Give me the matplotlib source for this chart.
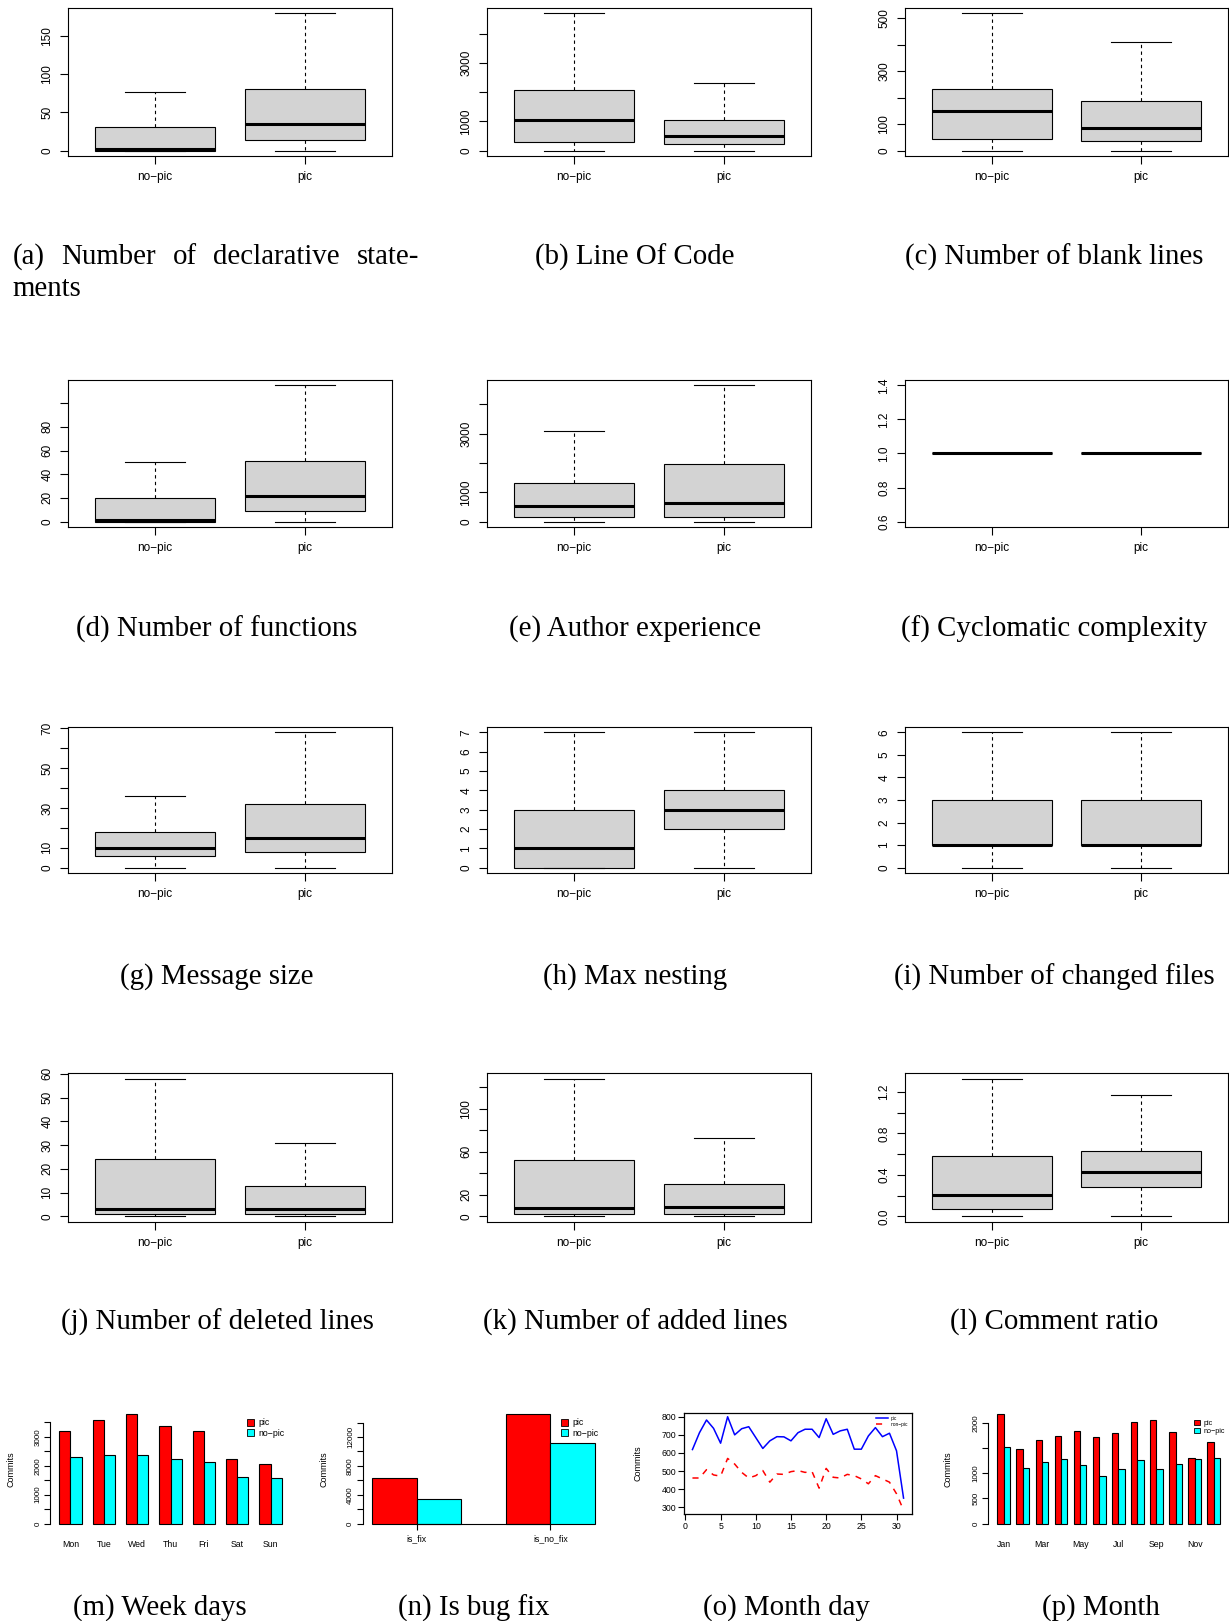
import matplotlib
matplotlib.use('Agg')
import matplotlib.pyplot as plt
from matplotlib.patches import Patch

W, H = 1229, 1621
plt.rcParams['font.family'] = ['Liberation Sans', 'DejaVu Sans']

# ---------------- data ----------------
groups = ['no\u2212pic', 'pic']
# boxplot stats: [lower whisker, Q1, median, Q3, upper whisker]
decl_nopic = [0, 0, 2, 31, 77]
decl_pic = [0, 14, 35, 80, 179]
loc_nopic = [0, 300, 1050, 2070, 4700]
loc_pic = [0, 210, 500, 1060, 2320]
blank_nopic = [0, 42, 150, 232, 518]
blank_pic = [0, 35, 86, 186, 411]
func_nopic = [0, 0, 1, 20, 50]
func_pic = [0, 9, 22, 51, 115]
exp_nopic = [0, 150, 535, 1325, 3080]
exp_pic = [0, 170, 650, 1975, 4650]
cc_nopic = [1, 1, 1, 1, 1]
cc_pic = [1, 1, 1, 1, 1]
msg_nopic = [0, 6, 10, 18, 36]
msg_pic = [0, 8, 15, 32, 68]
nest_nopic = [0, 0, 1, 3, 7]
nest_pic = [0, 2, 3, 4, 7]
files_nopic = [0, 1, 1, 3, 6]
files_pic = [0, 1, 1, 3, 6]
del_nopic = [0, 1, 3, 24, 58]
del_pic = [0, 1, 3, 13, 31]
add_nopic = [0, 2, 8, 52, 128]
add_pic = [0, 2, 9, 30, 73]
cr_nopic = [0, 0.07, 0.21, 0.58, 1.33]
cr_pic = [0, 0.28, 0.43, 0.63, 1.17]

ticks_a = [0, 50, 100, 150]; labels_a = ['0', '50', '100', '150']
ticks_b = [0, 1000, 2000, 3000, 4000]; labels_b = ['0', '1000', '', '3000', '']
ticks_c = [0, 100, 200, 300, 400, 500]; labels_c = ['0', '100', '', '300', '', '500']
ticks_d = [0, 20, 40, 60, 80, 100]; labels_d = ['0', '20', '40', '60', '80', '']
ticks_e = [0, 1000, 2000, 3000, 4000]; labels_e = ['0', '1000', '', '3000', '']
ticks_f = [0.6, 0.8, 1.0, 1.2, 1.4]; labels_f = ['0.6', '0.8', '1.0', '1.2', '1.4']
ticks_g = [0, 10, 20, 30, 40, 50, 60, 70]; labels_g = ['0', '10', '', '30', '', '50', '', '70']
ticks_h = [0, 1, 2, 3, 4, 5, 6, 7]; labels_h = ['0', '1', '2', '3', '4', '5', '6', '7']
ticks_i = [0, 1, 2, 3, 4, 5, 6]; labels_i = ['0', '1', '2', '3', '4', '5', '6']
ticks_j = [0, 10, 20, 30, 40, 50, 60]; labels_j = ['0', '10', '20', '30', '40', '50', '60']
ticks_k = [0, 20, 40, 60, 80, 100, 120]; labels_k = ['0', '20', '', '60', '', '100', '']
ticks_l = [0, 0.2, 0.4, 0.6, 0.8, 1.0, 1.2]; labels_l = ['0.0', '', '0.4', '', '0.8', '', '1.2']

captions_box = ['(b) Line Of Code', '(c) Number of blank lines',
                '(d) Number of functions', '(e) Author experience', '(f) Cyclomatic complexity',
                '(g) Message size', '(h) Max nesting', '(i) Number of changed files',
                '(j) Number of deleted lines', '(k) Number of added lines', '(l) Comment ratio']
caption_a_words = ['(a)', 'Number', 'of', 'declarative', 'state-']
caption_a_line2 = 'ments'

weekdays = ['Mon', 'Tue', 'Wed', 'Thu', 'Fri', 'Sat', 'Sun']
week_pic = [3190, 3570, 3780, 3385, 3210, 2220, 2070]
week_nopic = [2315, 2360, 2370, 2245, 2140, 1605, 1570]
week_ticks = [0, 500, 1000, 1500, 2000, 2500, 3000, 3500]
week_tlabels = ['0', '', '1000', '', '2000', '', '3000', '']

fix_cats = ['is_fix', 'is_no_fix']
fix_pic = [6300, 15150]
fix_nopic = [3450, 11190]
fix_ticks = [0, 2000, 4000, 6000, 8000, 10000, 12000, 14000]
fix_tlabels = ['0', '', '4000', '', '8000', '', '12000', '']

days = list(range(1, 32))
day_pic = [619, 712, 782, 736, 654, 800, 700, 734, 745, 685, 625, 667, 690, 689, 667, 712,
           731, 731, 685, 789, 703, 722, 731, 621, 621, 694, 740, 690, 709, 612, 351]
day_nonpic = [462, 462, 508, 479, 472, 570, 539, 493, 462, 475, 503, 439, 484, 482, 497, 503,
              493, 497, 406, 515, 466, 462, 482, 475, 457, 430, 475, 457, 439, 375, 284]
day_xticks = [0, 5, 10, 15, 20, 25, 30]
day_yticks = [300, 400, 500, 600, 700, 800]

months = ['Jan', 'Feb', 'Mar', 'Apr', 'May', 'Jun', 'Jul', 'Aug', 'Sep', 'Oct', 'Nov', 'Dec']
month_shown = ['Jan', '', 'Mar', '', 'May', '', 'Jul', '', 'Sep', '', 'Nov', '']
month_pic = [2180, 1497, 1664, 1752, 1846, 1732, 1812, 2034, 2060, 1832, 1309, 1624]
month_nopic = [1530, 1107, 1235, 1289, 1174, 946, 1094, 1275, 1087, 1181, 1289, 1309]
month_ticks = [0, 500, 1000, 1500, 2000]
month_tlabels = ['0', '500', '1000', '', '2000']

bottom_captions = ['(m) Week days', '(n) Is bug fix', '(o) Month day', '(p) Month']

# ---------------- layout ----------------
fig = plt.figure(figsize=(W / 100, H / 100), dpi=100)

def add_ax(x0, x1, y0, y1):
    return fig.add_axes([x0 / W, 1 - y1 / H, (x1 - x0) / W, (y1 - y0) / H])

cols = [(68, 392), (487, 811), (905, 1228)]
rows = [(8, 156), (380, 527), (727, 873), (1073, 1222)]
cap_y = [257, 629, 977, 1322]
cap_x = [217, 635, 1054]
SERIF = ['Liberation Serif', 'DejaVu Serif']
CAPFS = 20.8

box_data = [(decl_nopic, decl_pic, ticks_a, labels_a),
            (loc_nopic, loc_pic, ticks_b, labels_b),
            (blank_nopic, blank_pic, ticks_c, labels_c),
            (func_nopic, func_pic, ticks_d, labels_d),
            (exp_nopic, exp_pic, ticks_e, labels_e),
            (cc_nopic, cc_pic, ticks_f, labels_f),
            (msg_nopic, msg_pic, ticks_g, labels_g),
            (nest_nopic, nest_pic, ticks_h, labels_h),
            (files_nopic, files_pic, ticks_i, labels_i),
            (del_nopic, del_pic, ticks_j, labels_j),
            (add_nopic, add_pic, ticks_k, labels_k),
            (cr_nopic, cr_pic, ticks_l, labels_l)]

for idx, (s0, s1, yt, yl) in enumerate(box_data):
    r, c = divmod(idx, 3)
    ax = add_ax(cols[c][0], cols[c][1], rows[r][0], rows[r][1])
    stats = []
    for name, s in zip(groups, [s0, s1]):
        stats.append(dict(whislo=s[0], q1=s[1], med=s[2], q3=s[3], whishi=s[4], label=name))
    ax.bxp(stats, positions=[1, 2], widths=0.8, capwidths=0.4, patch_artist=True,
           showfliers=False,
           boxprops=dict(facecolor='#D3D3D3', edgecolor='black', linewidth=0.8),
           medianprops=dict(color='black', linewidth=2.2, solid_capstyle='butt'),
           whiskerprops=dict(color='black', linewidth=0.8, linestyle=(0, (3, 3))),
           capprops=dict(color='black', linewidth=0.8))
    lo = min(s0[0], s1[0]); hi = max(s0[4], s1[4])
    if hi == lo:
        lo -= 0.4; hi += 0.4
    pad = 0.04 * (hi - lo)
    ax.set_ylim(lo - pad, hi + pad)
    ax.set_xlim(0.42, 2.58)
    ax.set_yticks(yt)
    ax.set_yticklabels(yl, rotation=90, va='center', fontsize=8.5)
    ax.set_xticks([1, 2])
    ax.set_xticklabels(groups, fontsize=8.5)
    ax.tick_params(axis='both', direction='out', length=5.5, width=0.8, pad=5)
    for sp in ax.spines.values():
        sp.set_linewidth(0.8)
    if idx == 0:
        continue
    fig.text(cap_x[c] / W, 1 - cap_y[r] / H, captions_box[idx - 1], ha='center', va='center',
             fontsize=CAPFS, family=SERIF)

# caption (a), justified over the first line
renderer = fig.canvas.get_renderer()
a_texts = [fig.text(0, 1 - 257 / H, wd, ha='left', va='center', fontsize=CAPFS, family=SERIF)
           for wd in caption_a_words]
a_widths = [t.get_window_extent(renderer).width for t in a_texts]
a_left, a_right = 12.4, 419.0
gap = (a_right - a_left - sum(a_widths)) / (len(a_texts) - 1)
xx = a_left
for t, wdt in zip(a_texts, a_widths):
    t.set_x(xx / W)
    xx += wdt + gap
fig.text(a_left / W, 1 - 289 / H, caption_a_line2, ha='left', va='center', fontsize=CAPFS, family=SERIF)

# ---------------- bottom row ----------------
def barplot(ax, cats, pic, nopic, yt, yl, xlabels, legfs, leg_anchor, baseline=False):
    n = len(cats)
    centers = [3 * g + 2 for g in range(n)]
    ax.bar([cc - 0.5 for cc in centers], pic, width=1, color='#FF0000', edgecolor='black', linewidth=0.8)
    ax.bar([cc + 0.5 for cc in centers], nopic, width=1, color='#00FFFF', edgecolor='black', linewidth=0.8)
    xlo, xhi = 1, 3 * n
    px = 0.04 * (xhi - xlo)
    ax.set_xlim(xlo - px, xhi + px)
    mx = max(max(pic), max(nopic))
    ylo, yhi = -0.01 * mx, mx
    py = 0.04 * (yhi - ylo)
    ax.set_ylim(ylo - py, yhi + py)
    for k in ['top', 'right']:
        ax.spines[k].set_visible(False)
    if baseline:
        ax.spines['bottom'].set_position(('data', 0))
        ax.spines['bottom'].set_bounds(centers[0], centers[-1])
        ax.spines['bottom'].set_linewidth(0.8)
    else:
        ax.spines['bottom'].set_visible(False)
    ax.spines['left'].set_bounds(yt[0], yt[-1])
    ax.spines['left'].set_linewidth(0.8)
    ax.set_yticks(yt)
    ax.set_yticklabels(yl, rotation=90, va='center', fontsize=5.8)
    ax.tick_params(axis='y', direction='out', length=4, width=0.8, pad=2.5)
    ax.set_xticks(centers)
    ax.set_xticklabels(xlabels, fontsize=6.3)
    if baseline:
        ax.tick_params(axis='x', direction='out', length=4, width=0.8, pad=4)
    else:
        ax.tick_params(axis='x', length=0, pad=8)
    ax.set_ylabel('Commits', fontsize=6.5)
    ax.legend(handles=[Patch(facecolor='#FF0000', edgecolor='black', linewidth=0.6),
                       Patch(facecolor='#00FFFF', edgecolor='black', linewidth=0.6)],
              labels=['pic', 'no\u2212pic'], loc='upper left', bbox_to_anchor=leg_anchor,
              frameon=False, fontsize=legfs, handlelength=0.8, handleheight=0.8,
              handletextpad=0.5, labelspacing=0.15, borderpad=0, borderaxespad=0)
    return centers

BY0, BY1 = 1410, 1529
axm = add_ax(50.4, 290.6, BY0, BY1)
barplot(axm, weekdays, week_pic, week_nopic, week_ticks, week_tlabels, weekdays, 6.3, (0.82, 0.93))
axm.yaxis.set_label_coords(-0.147, 0.5)

axn = add_ax(363, 604, BY0, BY1)
barplot(axn, fix_cats, fix_pic, fix_nopic, fix_ticks, fix_tlabels, fix_cats, 6.3, (0.82, 0.93),
        baseline=True)
axn.yaxis.set_label_coords(-0.145, 0.5)

axo = add_ax(684, 912, 1413, 1514)
axo.plot(days, day_pic, color='#0000FF', linewidth=1.1, label='pic')
axo.plot(days, day_nonpic, color='#FF0000', linewidth=1.1, linestyle=(0, (4, 4)), label='non\u2212pic')
ylo, yhi = min(day_nonpic), max(day_pic)
pyo = 0.04 * (yhi - ylo)
axo.set_ylim(ylo - pyo, yhi + pyo)
axo.set_xlim(1 - 0.04 * 30, 31 + 0.04 * 30)
axo.set_xticks(day_xticks)
axo.set_yticks(day_yticks)
axo.tick_params(axis='both', direction='out', length=4, width=0.8, pad=1.5, labelsize=6.3)
for sp in axo.spines.values():
    sp.set_linewidth(0.9)
axo.set_ylabel('Commits', fontsize=6.5)
axo.yaxis.set_label_coords(-0.18, 0.5)
axo.legend(loc='upper left', bbox_to_anchor=(0.84, 0.97), frameon=False, fontsize=3.5,
           handlelength=2.5, handletextpad=0.6, labelspacing=0.2, borderpad=0, borderaxespad=0)

axp = add_ax(988.5, 1229, BY0, BY1)
barplot(axp, months, month_pic, month_nopic, month_ticks, month_tlabels, month_shown, 5.2, (0.855, 0.92))
axp.yaxis.set_label_coords(-0.148, 0.5)

bcap_x = [160, 474, 786, 1101]
for bx, txt in zip(bcap_x, bottom_captions):
    fig.text(bx / W, 1 - 1608 / H, txt, ha='center', va='center', fontsize=CAPFS, family=SERIF)

fig.savefig('out.png', dpi=100)
